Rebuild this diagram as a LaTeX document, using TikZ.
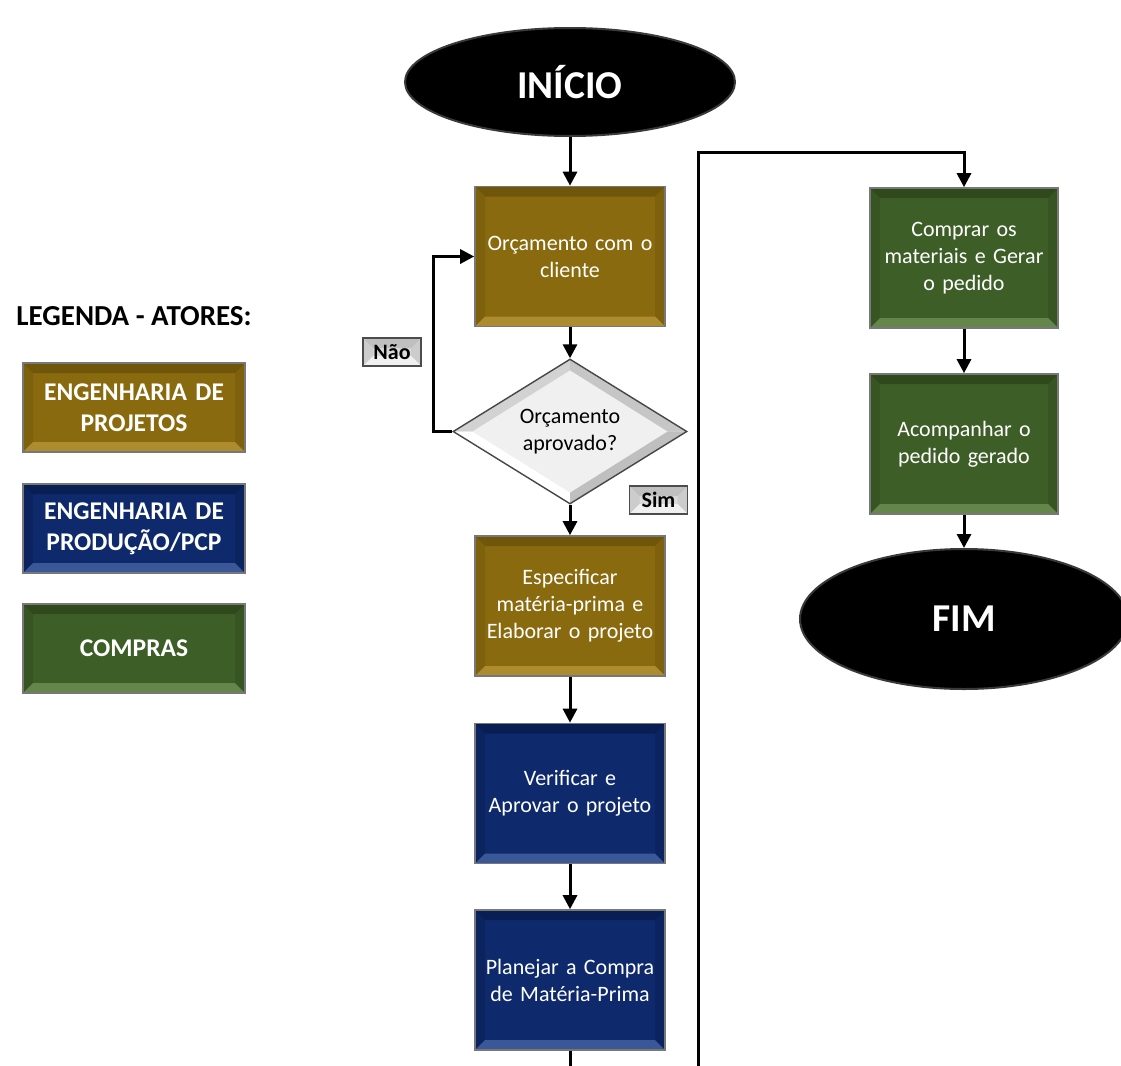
\documentclass[tikz,border=0pt]{standalone}
\usepackage{fontspec}
\setmainfont{Carlito}
\usetikzlibrary{shapes.geometric,arrows.meta}

% actor colours
\definecolor{projbase}{RGB}{138,106,14}
\definecolor{projtop}{RGB}{112,86,10}
\definecolor{projbot}{RGB}{172,140,46}
\definecolor{projside}{RGB}{126,97,12}
\definecolor{pcpbase}{RGB}{14,42,108}
\definecolor{pcptop}{RGB}{9,30,82}
\definecolor{pcpbot}{RGB}{58,88,152}
\definecolor{pcpside}{RGB}{11,36,96}
\definecolor{compbase}{RGB}{62,94,40}
\definecolor{comptop}{RGB}{47,73,29}
\definecolor{compbot}{RGB}{100,134,74}
\definecolor{compside}{RGB}{55,84,35}
\definecolor{rimgray}{RGB}{120,120,120}

\newcommand\bodyfont{\fontsize{22}{27}\selectfont}
\newcommand\legendfont{\fontsize{25.5}{31}\selectfont\bfseries}

% bevelled faces inside a rectangle: #1 top, #2 bottom, #3 sides, #4 inset
\newcommand\rectbevel[4]{%
  \coordinate (bvnw) at (path picture bounding box.north west);
  \coordinate (bvne) at (path picture bounding box.north east);
  \coordinate (bvsw) at (path picture bounding box.south west);
  \coordinate (bvse) at (path picture bounding box.south east);
  \fill[#3] (bvnw) -- ([xshift=#4,yshift=-#4]bvnw) -- ([xshift=#4,yshift=#4]bvsw) -- (bvsw) -- cycle;
  \fill[#3] (bvne) -- ([xshift=-#4,yshift=-#4]bvne) -- ([xshift=-#4,yshift=#4]bvse) -- (bvse) -- cycle;
  \fill[#1] (bvnw) -- (bvne) -- ([xshift=-#4,yshift=-#4]bvne) -- ([xshift=#4,yshift=-#4]bvnw) -- cycle;
  \fill[#2] (bvsw) -- (bvse) -- ([xshift=-#4,yshift=#4]bvse) -- ([xshift=#4,yshift=#4]bvsw) -- cycle;
}

\tikzset{
  actor/.style n args={4}{rectangle, fill=#1, draw=rimgray, line width=1.6pt,
    inner sep=0pt, align=center, text=white,
    path picture={\rectbevel{#2}{#3}{#4}{10pt}}},
  proj/.style={actor={projbase}{projtop}{projbot}{projside}},
  pcp/.style={actor={pcpbase}{pcptop}{pcpbot}{pcpside}},
  comp/.style={actor={compbase}{comptop}{compbot}{compside}},
  stepbox/.style={minimum width=190pt, minimum height=140pt, text width=184pt, font=\bodyfont},
  legendbox/.style={minimum width=222pt, minimum height=89pt, text width=218pt, font=\legendfont},
  terminal/.style={ellipse, fill=black, draw=gray!45!black, line width=2pt, inner sep=0pt,
    text=white, font=\fontsize{39.5}{44}\selectfont\bfseries},
  decision/.style={diamond, fill=gray!12, draw=gray!55!black, line width=1.4pt,
    inner sep=0pt, minimum width=234pt, minimum height=139pt, align=center,
    font=\bodyfont,
    path picture={
      \coordinate (dn) at (path picture bounding box.north);
      \coordinate (ds) at (path picture bounding box.south);
      \coordinate (dw) at (path picture bounding box.west);
      \coordinate (de) at (path picture bounding box.east);
      \fill[gray!35] (dw) -- (dn) -- ([yshift=-11pt]dn) -- ([xshift=19pt]dw) -- cycle;
      \fill[gray!45] (dn) -- (de) -- ([xshift=-19pt]de) -- ([yshift=-11pt]dn) -- cycle;
      \fill[white] (dw) -- (ds) -- ([yshift=11pt]ds) -- ([xshift=19pt]dw) -- cycle;
      \fill[gray!50] (ds) -- (de) -- ([xshift=-19pt]de) -- ([yshift=11pt]ds) -- cycle;
    }},
  answer/.style={actor={gray!30}{gray!50}{gray!12}{gray!40}, draw=gray!60!black,
    line width=1.2pt, minimum width=58pt, minimum height=28pt, text=black,
    font=\fontsize{22}{24}\selectfont\bfseries},
  flow/.style={line width=3pt, -{Triangle[width=14pt,length=14pt]}},
  plain/.style={line width=3pt}
}

\begin{document}
\begin{tikzpicture}[x=1pt,y=-1pt]
  \useasboundingbox (0,0) rectangle (1121,1065);
  \clip (0,0) rectangle (1121,1065);
  \fill[white] (0,0) rectangle (1121,1065);

  % legend
  \node[font=\fontsize{29}{34}\selectfont\bfseries] (legtitle) at (134,316) {LEGENDA - ATORES:};
  \node[proj, legendbox] (lg1) at (134,407.5) {ENGENHARIA DE\\PROJETOS};
  \node[pcp, legendbox] (lg2) at (134,528.5) {ENGENHARIA DE\\PRODUÇÃO/PCP};
  \node[comp, legendbox] (lg3) at (134,648.5) {COMPRAS};

  % main column
  \node[terminal, minimum width=330pt, minimum height=108pt] (start) at (570,82) {INÍCIO};
  \node[proj, stepbox] (b1) at (570,256.5) {Orçamento com o\\cliente};
  \node[decision] (dec) at (570,431.5) {Orçamento\\aprovado?};
  \node[proj, stepbox] (b2) at (570,606) {Especificar\\matéria-prima e\\Elaborar o projeto};
  \node[pcp, stepbox] (b3) at (570,793.5) {Verificar e\\Aprovar o projeto};
  \node[pcp, stepbox] (b4) at (570,980) {Planejar a Compra\\de Matéria-Prima};

  \node[answer] (nao) at (392,352) {Não};
  \node[answer] (sim) at (658.5,500) {Sim};

  % purchasing column
  \node[comp, stepbox, minimum width=188pt] (b5) at (964,258) {Comprar os\\materiais e Gerar\\o pedido};
  \node[comp, stepbox, minimum width=188pt] (b6) at (964,444) {Acompanhar o\\pedido gerado};
  \node[terminal, minimum width=328pt, minimum height=140pt] (end) at (964,619) {FIM};

  \coordinate (outA) at (570,1075);
  \coordinate (outB) at (698,1075);
  \coordinate (turn) at (698,152);

  % connectors
  \draw[flow] (start) -- (b1);
  \draw[flow] (b1) -- (dec);
  \draw[flow] (dec.west) -- ([xshift=-19pt]dec.west) |- (b1.west);
  \draw[flow] (dec) -- (b2);
  \draw[flow] (b2) -- (b3);
  \draw[flow] (b3) -- (b4);
  \draw[plain] (b4) -- (outA);
  \draw[flow] (outB) -- (turn) -| (b5);
  \draw[flow] (b5) -- (b6);
  \draw[flow] (b6) -- (end);
\end{tikzpicture}
\end{document}
